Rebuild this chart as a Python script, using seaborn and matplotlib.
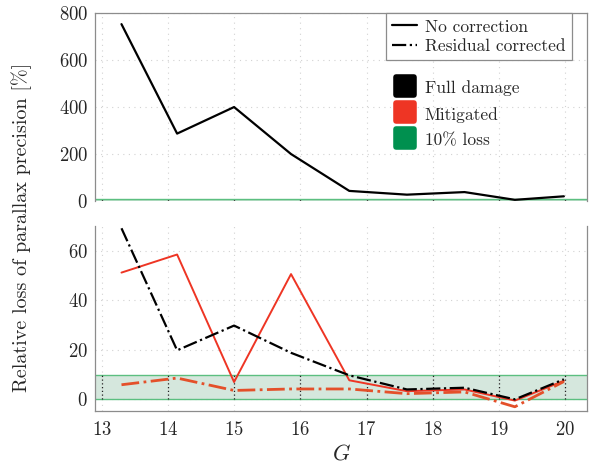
import numpy as np
import matplotlib
matplotlib.use('Agg')
import matplotlib.pyplot as plt
from matplotlib.lines import Line2D
from matplotlib.markers import MarkerStyle
import seaborn as sns

# G magnitude bins
g_mag = [13.30, 14.14, 15.00, 15.86, 16.74, 17.61, 18.48, 19.24, 19.98]

# relative loss [%]
full_no_corr = [753, 287, 400, 200, 43, 27, 38, 5, 20]
full_resid = [69.1, 19.8, 29.8, 18.8, 9.7, 4.0, 4.7, 0.0, 8.1]
mitig_no_corr = [51.2, 58.5, 7.0, 50.6, 7.7, 3.3, 4.0, -0.5, 7.5]
mitig_resid = [5.9, 8.6, 3.6, 4.2, 4.2, 2.3, 3.0, -3.0, 7.2]
loss_band = [0, 10]

c_black = '#000000'
c_red = '#ee3524'
c_green = '#00904f'

sns.set_theme(style='white')
plt.rcParams['font.family'] = 'serif'
plt.rcParams['font.serif'] = ['cmr10']
plt.rcParams['mathtext.fontset'] = 'cm'
plt.rcParams['axes.formatter.use_mathtext'] = True
plt.rcParams['axes.unicode_minus'] = False

fig = plt.figure(figsize=(5.9, 4.68), dpi=100)
ax1 = fig.add_axes([0.161, 0.5705, 0.834, 0.4015])
ax2 = fig.add_axes([0.161, 0.1218, 0.834, 0.3952])

xlim = (12.9, 20.33)

for ax in (ax1, ax2):
    ax.axhspan(loss_band[0], loss_band[1], facecolor='#2e8b57', alpha=0.2,
               edgecolor='none', zorder=0)
    ax.axhline(loss_band[0], color='#5cbf80', lw=1.0, zorder=1)
    ax.axhline(loss_band[1], color='#5cbf80', lw=1.0, zorder=1)
    ax.set_xlim(*xlim)
    ax.set_xticks(range(13, 21))
    ax.set_xticks(np.arange(13.5, 20.5, 1.0), minor=True)
    ax.grid(True, which='major', color='#d2d2d2', linestyle=(0, (1, 4)), lw=0.8)
    # darker grid inside the band
    ax.vlines(range(13, 21), loss_band[0], loss_band[1], colors='#222222',
              linestyles=(0, (1, 2)), lw=0.9, zorder=1)
    for s in ax.spines.values():
        s.set_color('#8c8c8c')
        s.set_linewidth(0.9)
    ax.tick_params(which='both', direction='in', length=3.5, width=0.8,
                   color='#555555', labelsize=13.5, pad=5)

# top panel
sns.lineplot(x=g_mag, y=full_no_corr, ax=ax1, color=c_black, lw=1.6, sort=False)
ax1.set_ylim(0, 800)
ax1.set_yticks(range(0, 801, 200))
ax1.set_yticks(range(100, 800, 200), minor=True)
ax1.spines['bottom'].set_visible(False)
ax1.tick_params(axis='x', which='both', bottom=False, labelbottom=False)

# bottom panel
sns.lineplot(x=g_mag, y=mitig_no_corr, ax=ax2, color=c_red, lw=1.4, sort=False)
sns.lineplot(x=g_mag, y=mitig_resid, ax=ax2, color='#e4502a', lw=2.0,
             linestyle='-.', sort=False)
sns.lineplot(x=g_mag, y=full_resid, ax=ax2, color=c_black, lw=1.6,
             linestyle='-.', sort=False)
ax2.set_ylim(-4.7, 70)
ax2.set_yticks([0, 20, 40, 60])
ax2.set_yticks([10, 30, 50, 70], minor=True)
ax2.spines['top'].set_visible(False)
ax2.tick_params(axis='x', which='both', direction='inout', length=5)
ax2.set_xlabel('$G$', fontsize=16, labelpad=3)

fig.text(0.037, 0.513, 'Relative loss of parallax precision [%]',
         rotation=90, ha='center', va='center', fontsize=14.5)

# legends
style_handles = [Line2D([], [], color='black', lw=1.6, ls='-'),
                 Line2D([], [], color='black', lw=1.6, ls='-.')]
leg1 = ax1.legend(style_handles, ['No correction', 'Residual corrected'],
                  loc='upper right', bbox_to_anchor=(0.9695, 1.0),
                  borderaxespad=0, fancybox=False, edgecolor='#8c8c8c',
                  framealpha=1, fontsize=12.5, handlelength=1.4,
                  handletextpad=0.5, labelspacing=0.25, borderpad=0.35)
leg1.get_frame().set_linewidth(0.9)
ax1.add_artist(leg1)

sq = MarkerStyle('s', joinstyle='round')
color_handles = [Line2D([], [], ls='none', marker=sq, markersize=13.5,
                        markeredgewidth=4, color=c) for c in (c_black, c_red, c_green)]
ax1.legend(color_handles, ['Full damage', 'Mitigated', '10% loss'],
           loc='upper left', bbox_to_anchor=(0.608, 0.655), borderaxespad=0,
           frameon=False, fontsize=12.5, handlelength=1.3, handleheight=1.35,
           handletextpad=0.45, labelspacing=0.38, borderpad=0)

fig.savefig('out.png', dpi=100)
